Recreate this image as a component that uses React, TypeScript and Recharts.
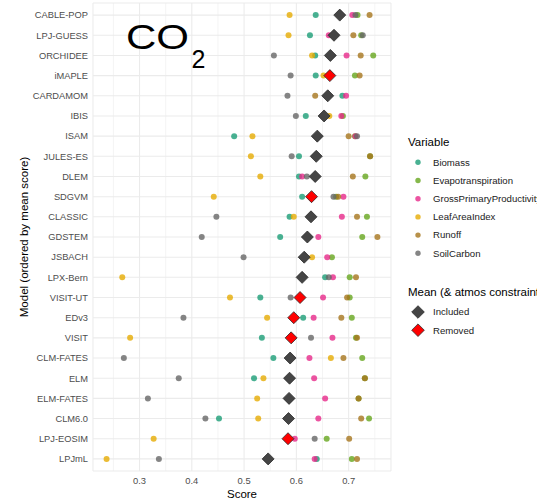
import React from "react";
import {
  ScatterChart,
  Scatter,
  XAxis,
  YAxis,
  CartesianGrid,
  ReferenceLine,
  Label,
} from "recharts";

// Models, top to bottom (ordered by mean score)
const models = [
  "CABLE-POP", "LPJ-GUESS", "ORCHIDEE", "iMAPLE", "CARDAMOM", "IBIS", "ISAM",
  "JULES-ES", "DLEM", "SDGVM", "CLASSIC", "GDSTEM", "JSBACH", "LPX-Bern",
  "VISIT-UT", "EDv3", "VISIT", "CLM-FATES", "ELM", "ELM-FATES", "CLM6.0",
  "LPJ-EOSIM", "LPJmL",
];

// Scores per variable, same order as models (null = not available)
const biomass = [0.637, 0.626, 0.636, 0.637, 0.688, 0.618, 0.481, 0.605, 0.605, 0.611, 0.587, 0.569, null, 0.655, 0.531, 0.613, 0.534, 0.556, 0.519, null, 0.452, null, 0.639];
const evapotranspiration = [0.717, 0.724, 0.747, 0.712, null, 0.689, 0.712, 0.741, 0.732, 0.676, 0.735, 0.726, 0.668, 0.702, 0.702, 0.706, 0.714, 0.726, 0.731, 0.719, 0.739, 0.658, 0.706];
const grossPrimaryProductivity = [0.707, 0.662, 0.696, null, 0.695, 0.686, 0.713, null, 0.611, 0.690, 0.687, 0.642, 0.659, 0.670, 0.651, 0.633, 0.669, 0.625, 0.634, 0.655, 0.642, 0.597, 0.635];
const leafAreaIndex = [0.587, 0.585, 0.630, 0.652, null, 0.663, 0.516, 0.513, 0.531, 0.442, 0.595, null, 0.630, 0.267, 0.473, 0.544, 0.282, 0.666, 0.537, 0.525, 0.527, 0.327, 0.237];
const runoff = [0.740, 0.709, 0.723, 0.721, 0.636, null, 0.700, 0.741, 0.708, 0.680, 0.716, 0.755, null, 0.714, 0.697, 0.686, 0.716, 0.690, 0.731, 0.719, 0.724, 0.701, 0.716];
const soilCarbon = [0.713, 0.727, 0.557, 0.589, 0.583, 0.599, 0.716, 0.591, 0.620, 0.671, 0.447, 0.419, 0.499, 0.662, 0.589, 0.384, 0.628, 0.270, 0.375, 0.316, 0.426, 0.635, 0.337];

// Mean score per model and whether the atmospheric constraint was removed
const meanScore = [0.683, 0.672, 0.665, 0.664, 0.660, 0.653, 0.640, 0.638, 0.636, 0.629, 0.628, 0.621, 0.615, 0.611, 0.607, 0.595, 0.590, 0.588, 0.587, 0.586, 0.585, 0.584, 0.546];
const atmosConstraint = [
  "Included", "Included", "Included", "Removed", "Included", "Included", "Included",
  "Included", "Included", "Removed", "Included", "Included", "Included", "Included",
  "Removed", "Removed", "Removed", "Included", "Included", "Included", "Included",
  "Removed", "Included",
];

const variableNames = ["Biomass", "Evapotranspiration", "GrossPrimaryProductivity", "LeafAreaIndex", "Runoff", "SoilCarbon"];
const variableColors = ["#1B9E77", "#66A61E", "#E7298A", "#E6AB02", "#A6761D", "#666666"];
const variableValues = [biomass, evapotranspiration, grossPrimaryProductivity, leafAreaIndex, runoff, soilCarbon];

const xTicks = [0.3, 0.4, 0.5, 0.6, 0.7];
const xMinorTicks = [0.25, 0.35, 0.45, 0.55, 0.65, 0.75];

const constraintFill: Record<string, string> = { Included: "#454545", Removed: "#FF0000" };

const n = models.length;
const rowOf = (i: number) => n - 1 - i; // bottom row = 0
const yTicks = models.map((_, i) => i);

const series = variableNames.map((name, k) => ({
  name,
  color: variableColors[k],
  data: variableValues[k]
    .map((v, i) => (v == null ? null : { x: v, y: rowOf(i), model: models[i] }))
    .filter((d) => d !== null),
}));

const meanData = models.map((m, i) => ({ x: meanScore[i], y: rowOf(i), model: m, constraint: atmosConstraint[i] }));

const FONT = '"Liberation Sans", Arial, Helvetica, sans-serif';

const makeDot = (color: string) => (props: any) => {
  const { cx, cy } = props;
  if (cx == null || cy == null) return <g />;
  return <circle cx={cx} cy={cy} r={3} fill={color} fillOpacity={0.8} />;
};

const Diamond = (props: any) => {
  const { cx, cy, payload } = props;
  if (cx == null || cy == null) return <g />;
  const h = 6;
  return (
    <polygon
      points={`${cx},${cy - h} ${cx + h},${cy} ${cx},${cy + h} ${cx - h},${cy}`}
      fill={constraintFill[payload.constraint]}
      stroke="#2b2b2b"
      strokeWidth={0.8}
    />
  );
};

const YTitle = (props: any) => {
  const vb = props.viewBox;
  const x = 28;
  const y = vb.y + vb.height / 2;
  return (
    <text
      x={x}
      y={y}
      transform={`rotate(-90 ${x} ${y})`}
      textAnchor="middle"
      fontSize={11.5}
      fontFamily={FONT}
      fill="#000"
    >
      Model (ordered by mean score)
    </text>
  );
};

const LegendOverlay = () => {
  const itemX = 418;
  const textX = 433;
  return (
    <svg
      width={537}
      height={502}
      style={{ position: "absolute", left: 0, top: 0, pointerEvents: "none" }}
      fontFamily={FONT}
    >
      <text x={126} y={49} fontSize={35} textLength={63} lengthAdjust="spacingAndGlyphs" fill="#000">
        CO
      </text>
      <text x={191.5} y={68} fontSize={25} fill="#000">
        2
      </text>

      <text x={408} y={142} dy="0.35em" fontSize={11.5} fill="#000">
        Variable
      </text>
      {variableNames.map((name, k) => {
        const y = 162.3 + k * 18.2;
        return (
          <g key={name}>
            <circle cx={itemX} cy={y} r={2.7} fill={variableColors[k]} fillOpacity={0.8} />
            <text x={textX} y={y} dy="0.35em" fontSize={9.6} fill="#1a1a1a">
              {name}
            </text>
          </g>
        );
      })}

      <text x={408} y={291.5} dy="0.35em" fontSize={11.5} fill="#000">
        Mean (&amp; atmos constraint)
      </text>
      {["Included", "Removed"].map((c, k) => {
        const y = 312 + k * 18.2;
        const h = 6.3;
        return (
          <g key={c}>
            <polygon
              points={`${itemX},${y - h} ${itemX + h},${y} ${itemX},${y + h} ${itemX - h},${y}`}
              fill={constraintFill[c]}
              stroke="#2b2b2b"
              strokeWidth={0.8}
            />
            <text x={textX} y={y} dy="0.35em" fontSize={9.6} fill="#1a1a1a">
              {c}
            </text>
          </g>
        );
      })}
    </svg>
  );
};

export default function App() {
  return (
    <div
      style={{
        position: "absolute",
        left: 0,
        top: 0,
        width: 537,
        height: 502,
        overflow: "hidden",
        background: "#fff",
      }}
    >
      <ScatterChart
        width={537}
        height={502}
        margin={{ top: 3, right: 146, bottom: 0, left: 0 }}
        style={{ fontFamily: FONT }}
      >
        <CartesianGrid stroke="#ebebeb" strokeWidth={1.05} />
        {xMinorTicks.map((t) => (
          <ReferenceLine key={t} x={t} stroke="#ebebeb" strokeWidth={0.55} />
        ))}
        <XAxis
          type="number"
          dataKey="x"
          domain={[0.211, 0.781]}
          ticks={xTicks}
          tickFormatter={(v: number) => v.toFixed(1)}
          axisLine={false}
          tickLine={false}
          tickSize={0}
          tickMargin={6}
          height={31}
          interval={0}
          tick={{ fontSize: 9.4, fill: "#4d4d4d", fontFamily: FONT }}
        >
          <Label value="Score" position="insideBottom" offset={4} fontSize={11.5} fill="#000" fontFamily={FONT} />
        </XAxis>
        <YAxis
          type="number"
          dataKey="y"
          domain={[-0.6, n - 1 + 0.6]}
          ticks={yTicks}
          interval={0}
          tickFormatter={(v: number) => models[n - 1 - v]}
          axisLine={false}
          tickLine={false}
          tickSize={0}
          tickMargin={5}
          width={93}
          tick={{ fontSize: 9.3, fill: "#4d4d4d", fontFamily: FONT }}
          label={(p: any) => <YTitle {...p} />}
        />
        {series.map((s) => (
          <Scatter
            key={s.name}
            name={s.name}
            data={s.data}
            shape={makeDot(s.color)}
            isAnimationActive={false}
          />
        ))}
        <Scatter name="Mean" data={meanData} shape={Diamond} isAnimationActive={false} />
      </ScatterChart>
      <LegendOverlay />
    </div>
  );
}
